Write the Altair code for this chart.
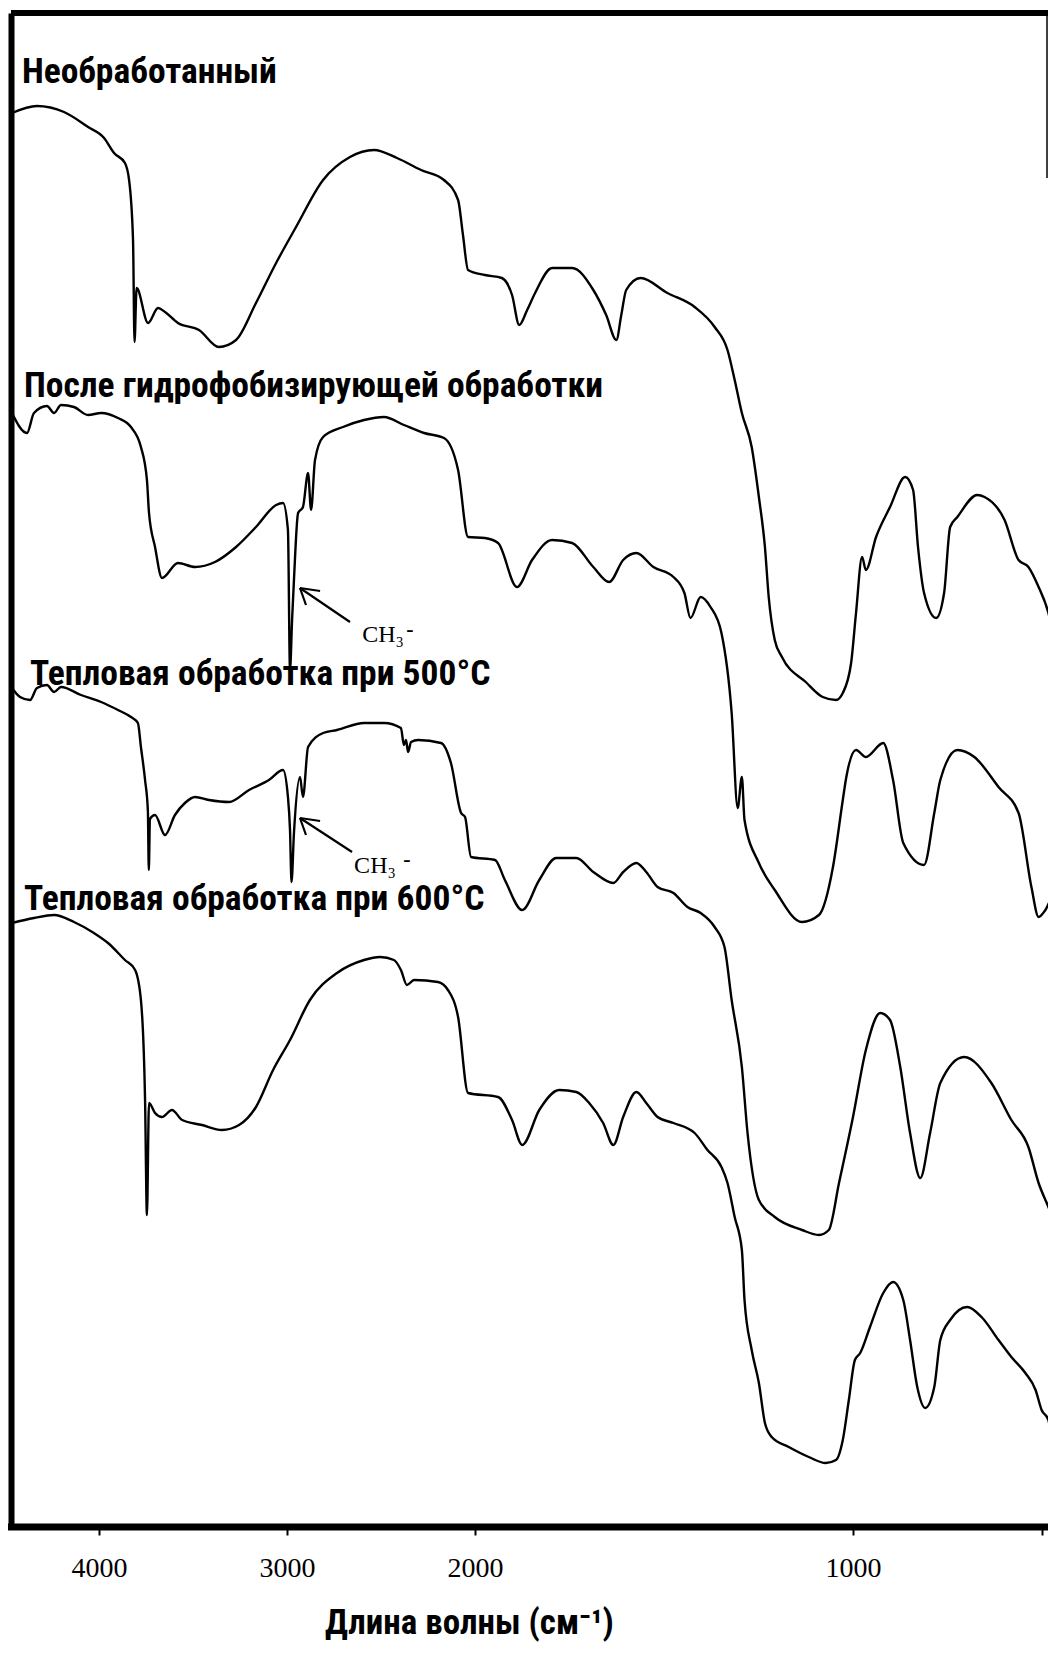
import altair as alt
import pandas as pd

# ---------------- data ----------------
# wavenumber (cm-1) and offset transmittance (a.u.) for each spectrum
nu_raw = [4463, 4330, 4186, 4058, 3973, 3920, 3862, 3840, 3819, 3811, 3800, 3739, 3686, 3649, 3580,
          3468, 3362, 3271, 3165, 3058, 2952, 2808, 2665, 2537, 2415, 2287, 2165, 2090, 2064, 2037,
          1974, 1929, 1902, 1883, 1862, 1841, 1796, 1743, 1687, 1653, 1626, 1613, 1600, 1562, 1491,
          1419, 1366, 1332, 1313, 1294, 1268, 1249, 1233, 1223, 1207, 1188, 1125, 1080, 1045, 1027,
          1005, 992, 976, 966, 939, 902, 862, 841, 828, 812, 780, 759, 743, 724, 671, 652, 599, 562,
          536, 509, 483, 459]
t_raw = [1414, 1421, 1415, 1400, 1389, 1374, 1364, 1347, 1287, 1185, 1239, 1204, 1219, 1215, 1204,
         1197, 1180, 1187, 1224, 1264, 1300, 1347, 1370, 1377, 1369, 1357, 1347, 1327, 1292, 1257,
         1252, 1249, 1232, 1202, 1217, 1234, 1259, 1259, 1237, 1212, 1187, 1212, 1237, 1249, 1234,
         1220, 1200, 1177, 1147, 1114, 1080, 1030, 980, 930, 887, 870, 845, 830, 827, 834,
         864, 914, 970, 957, 990, 1020, 1050, 1037, 980, 934, 909, 934, 1000, 1010, 1032, 1030, 1007, 967,
         960, 940, 914, 870]

nu_hydro = [4463, 4383, 4346, 4277, 4239, 4202, 4133, 4058, 3989, 3899, 3830, 3777, 3745, 3734, 3702,
            3665, 3580, 3489, 3383, 3271, 3165, 3058, 3021, 2995, 2984, 2973, 2963, 2941, 2915, 2888,
            2872, 2851, 2808, 2702, 2590, 2484, 2378, 2271, 2165, 2090, 2037, 1974, 1939, 1889, 1849,
            1796, 1743, 1687, 1645, 1608, 1573, 1528, 1475, 1446, 1430, 1403, 1377, 1348, 1321, 1305,
            1294, 1287, 1249, 1207, 1135, 1090, 1053, 1027, 1019, 992, 966, 920, 894, 867, 812, 785,
            769, 724, 679, 615, 562, 528, 509, 491, 475, 459]
t_hydro = [1114, 1094, 1114, 1121, 1114, 1122, 1120, 1112, 1114, 1109, 1100, 1080, 1047, 1014, 980,
           949, 964, 960, 965, 980, 1000, 1022, 1024, 997, 857, 907, 947, 1014, 1020, 1054,
           1017, 1067, 1090, 1100, 1107, 1110, 1102, 1094, 1089, 1057, 990, 989, 984, 940, 967,
           987, 984, 960, 945, 967, 974, 960, 950, 934, 909, 930, 920, 894, 814, 719,
           750, 707, 664, 637, 605, 612, 660, 727, 747, 777, 770, 784, 747, 684, 662, 714,
           747, 777, 770, 740, 714, 640, 610, 617, 627, 614]

nu_500 = [4463, 4420, 4367, 4330, 4277, 4239, 4202, 4096, 3989, 3899, 3830, 3793, 3777, 3755, 3740,
          3735, 3729, 3702, 3649, 3596, 3543, 3489, 3415, 3308, 3202, 3096, 3021, 2995, 2984, 2976,
          2963, 2931, 2915, 2888, 2808, 2734, 2590, 2484, 2394, 2378, 2367, 2356, 2340, 2303, 2181,
          2128, 2074, 2053, 2021, 1947, 1921, 1875, 1830, 1785, 1732, 1687, 1634, 1608, 1573, 1547,
          1517, 1475, 1438, 1403, 1366, 1340, 1321, 1294, 1279, 1249, 1207, 1135, 1090, 1064, 1037,
          1000, 966, 928, 902, 875, 849, 822, 796, 769, 706, 634, 581, 536, 509, 483, 459]
t_500 = [839, 830, 827, 839, 842, 835, 840, 832, 825, 817, 810, 804, 780, 747, 716,
         657, 708, 712, 692, 712, 724, 730, 727, 725, 737, 747, 757, 730, 697, 645,
         694, 750, 730, 780, 794, 797, 804, 804, 799, 782, 787, 775, 785, 787, 784,
         764, 714, 710, 670, 667, 647, 617, 647, 669, 669, 655, 644, 655, 664, 655,
         640, 634, 620, 614, 600, 580, 527, 460, 394, 327, 310, 297, 292, 297, 344,
         410, 477, 514, 507, 460, 394, 349, 394, 444, 470, 444, 407, 380, 344, 320, 297]

nu_600 = [4463, 4346, 4239, 4133, 4027, 3952, 3862, 3808, 3777, 3755, 3745, 3734, 3702, 3665, 3612,
          3558, 3452, 3346, 3255, 3165, 3074, 2984, 2878, 2734, 2590, 2505, 2431, 2394, 2362, 2324,
          2197, 2144, 2090, 2037, 1939, 1902, 1875, 1830, 1777, 1732, 1698, 1661, 1634, 1608, 1573,
          1547, 1517, 1475, 1419, 1385, 1348, 1332, 1313, 1294, 1287, 1268, 1249, 1233, 1215, 1170,
          1117, 1072, 1045, 1027, 1011, 995, 981, 955, 920, 894, 867, 849, 830, 809, 785,
          769, 743, 698, 660, 615, 581, 544, 517, 501, 483, 475, 459]
t_600 = [604, 609, 612, 605, 594, 584, 567, 557, 527, 427, 312, 424, 414, 410, 417,
         407, 402, 397, 402, 420, 457, 487, 527, 554, 567, 570, 567, 557, 542, 547,
         545, 537, 510, 434, 430, 407, 382, 417, 437, 435, 424, 404, 382, 410, 435,
         424, 410, 404, 394, 377, 360, 344, 310, 277, 227, 177, 144, 104, 90, 80,
         70, 64, 67, 87, 127, 167, 174, 200, 234, 245, 227, 187, 140, 119, 140,
         187, 207, 220, 210, 187, 170, 154, 137, 117, 107, 94, 97]

series_names = ["Необработанный", "После гидрофобизирующей обработки",
                "Тепловая обработка при 500°C", "Тепловая обработка при 600°C"]
label_nu = [4410, 4399, 4367, 4399]
label_t = [1444, 1130, 842, 617]

# CH3- annotations
ch3_text = ["CH₃", "CH₃"]
ch3_nu = [2489, 2532]
ch3_t = [885, 654]
minus_nu = [2346, 2362]
minus_t = [898, 668]
# arrow segments: shaft + two wings (start nu, start t, end nu, end t)
arrow_nu1 = [2665, 2931, 2931, 2654, 2931, 2931]
arrow_t1 = [905, 939, 939, 675, 709, 709]
arrow_nu2 = [2931, 2824, 2899, 2931, 2824, 2899]
arrow_t2 = [939, 936, 922, 709, 706, 692]

tick_values = [4000, 3000, 2000, 1000, 500]

# ---------------- tables ----------------
frames = []
for name, nu, t in zip(series_names, [nu_raw, nu_hydro, nu_500, nu_600], [t_raw, t_hydro, t_500, t_600]):
    frames.append(pd.DataFrame({"series": name, "nu": nu, "t": t}))
spectra = pd.concat(frames, ignore_index=True)
labels = pd.DataFrame({"label": series_names, "nu": label_nu, "t": label_t})
ch3 = pd.DataFrame({"label": ch3_text, "nu": ch3_nu, "t": ch3_t})
minus = pd.DataFrame({"label": ["-", "-"], "nu": minus_nu, "t": minus_t})
arrows = pd.DataFrame({"nu": arrow_nu1, "t": arrow_t1, "nu2": arrow_nu2, "t2": arrow_t2})

W, H = 1037, 1514
NARROW = "Roboto Condensed, Open Sans Condensed, DejaVu Sans Condensed, sans-serif"
SERIF = "Liberation Serif, Times New Roman, serif"

xscale = alt.Scale(domain=[4000, 2000, 500], range=[88, 464, 1031], nice=False, zero=False)
yscale = alt.Scale(domain=[0, 1514], nice=False, zero=False)

xaxis = alt.Axis(
    values=tick_values, format="d",
    labelExpr="datum.value == 500 ? '' : datum.label",
    title="Длина волны (см⁻¹)", titleFont=NARROW, titleFontSize=35, titleFontWeight="bold",
    titleColor="black", titleX=458, titleY=106, titleAlign="center", titleBaseline="alphabetic",
    labelFont=SERIF, labelFontSize=28, labelColor="black", labelPadding=19, labelFlush=False,
    tickColor="black", tickWidth=2, tickSize=8,
    domain=False, grid=False)
yaxis = alt.Axis(title="", labels=False, ticks=False, grid=False, domainColor="black", domainWidth=6)

X = alt.X("nu:Q", scale=xscale, axis=xaxis)
Y = alt.Y("t:Q", scale=yscale, axis=yaxis)

lines = alt.Chart(spectra).mark_line(color="black", strokeWidth=2.4, interpolate="monotone", clip=True).encode(
    x=X, y=Y, detail="series:N", order=alt.Order("nu:Q", sort="descending"))

label_layer = alt.Chart(labels).mark_text(
    align="left", baseline="alphabetic", font=NARROW, fontSize=35.5, fontWeight="bold", color="black"
).encode(x=X, y=Y, text="label:N")

ch3_layer = alt.Chart(ch3).mark_text(
    align="center", baseline="alphabetic", font=SERIF, fontSize=24, color="black"
).encode(x=X, y=Y, text="label:N")

minus_layer = alt.Chart(minus).mark_text(
    align="center", baseline="middle", font=SERIF, fontSize=22, fontWeight="bold", color="black"
).encode(x=X, y=Y, text="label:N")

arrow_layer = alt.Chart(arrows).mark_rule(color="black", strokeWidth=2.2).encode(
    x=X, y=Y, x2="nu2:Q", y2="t2:Q")

# plot frame: top, bottom and the partial right edge
frame_df = pd.DataFrame({"k": [0]})
top_rule = alt.Chart(frame_df).mark_rule(color="black", strokeWidth=6).encode(
    x=alt.value(0), x2=alt.value(W), y=alt.value(0))
bottom_rule = alt.Chart(frame_df).mark_rule(color="black", strokeWidth=7).encode(
    x=alt.value(-3), x2=alt.value(W), y=alt.value(H))
right_rule = alt.Chart(frame_df).mark_rule(color="black", strokeWidth=1.5).encode(
    x=alt.value(W - 1), y=alt.value(0), y2=alt.value(165))

chart = alt.layer(lines, label_layer, ch3_layer, minus_layer, arrow_layer,
                  top_rule, bottom_rule, right_rule).properties(
    width=W, height=H,
    padding={"left": 3, "top": 5, "right": 0, "bottom": 118},
    autosize=alt.AutoSizeParams(type="none"),
    background="white",
).configure_view(strokeWidth=0)

chart.save("out.html", embed_options={"renderer": "svg", "actions": False})
